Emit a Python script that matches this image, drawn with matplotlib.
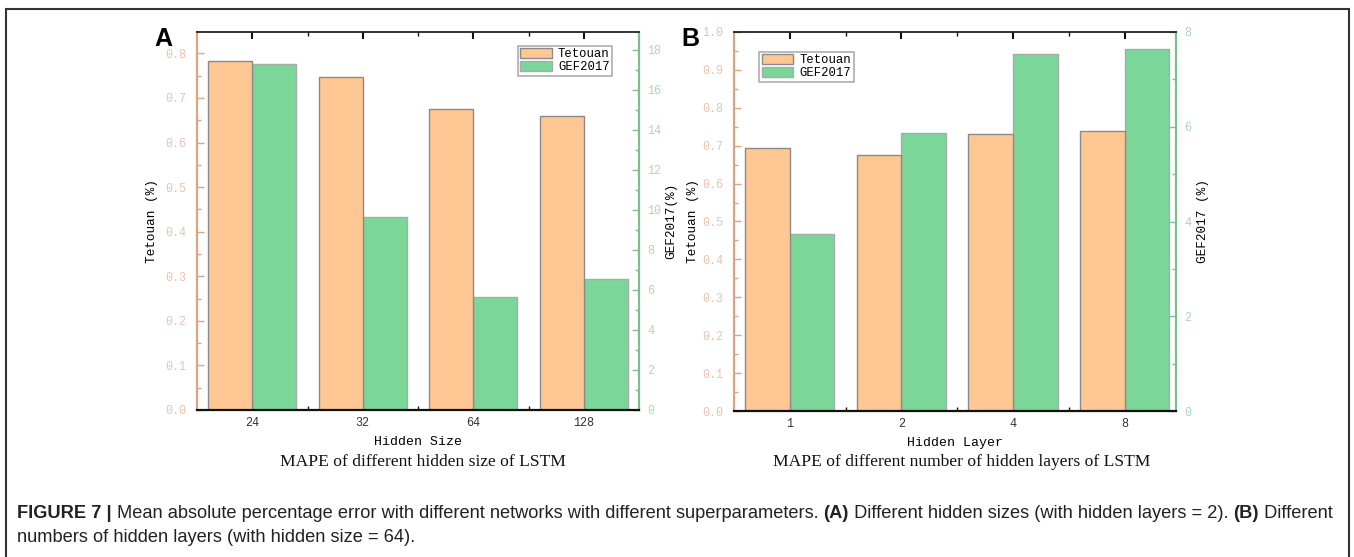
import matplotlib
matplotlib.use("Agg")
import matplotlib.pyplot as plt
import numpy as np
from matplotlib.patches import Rectangle
from matplotlib.ticker import MultipleLocator, FixedLocator

# ---------------- data ----------------
size_labels = ["24", "32", "64", "128"]
size_tetouan = [0.783, 0.746, 0.675, 0.659]
size_gef = [17.3, 9.67, 5.65, 6.55]

layer_labels = ["1", "2", "4", "8"]
layer_tetouan = [0.693, 0.675, 0.732, 0.740]
layer_gef = [3.73, 5.87, 7.53, 7.64]

series_names = ["Tetouan", "GEF2017"]

# ---------------- style ----------------
W, H = 1354, 557
DPI = 100
ORANGE = "#FFC793"
GREEN = "#7AD799"
EDGE = "#8a8a8a"
TAN_SPINE = "#D9A583"
TAN_TXT = "#E9C3AD"
GREEN_SPINE = "#7DBE8E"
GREEN_TXT = "#A9D9B5"
MONO = "Liberation Mono"
SERIF = "Liberation Serif"
SANS = "Liberation Sans"

fig = plt.figure(figsize=(W / DPI, H / DPI), dpi=DPI)


def px_axes(l, t, r, b):
    return fig.add_axes([l / W, 1 - b / H, (r - l) / W, (b - t) / H])


def panel(box, labels, tet, gef, ylim1, ylim2, xlim, minor1, major2, minor2,
          xlabel, ylabel2, subtitle, sub_xy, letter, letter_xy, leg_anchor, leg_loc,
          lp1, lp2):
    ax = px_axes(*box)
    ax2 = ax.twinx()
    x = np.arange(len(labels))
    w = 0.4
    b1 = ax.bar(x - w / 2, tet, width=w, color=ORANGE, edgecolor=EDGE,
                linewidth=1.0, label=series_names[0], zorder=2)
    b2 = ax2.bar(x + w / 2, gef, width=w, color=GREEN, edgecolor="#aaaaaa",
                 linewidth=1.0, label=series_names[1], zorder=2)
    ax.set_xlim(*xlim)
    ax.set_ylim(*ylim1)
    ax2.set_ylim(*ylim2)

    ax.spines["right"].set_visible(False)
    for s in ["left", "top", "bottom"]:
        ax2.spines[s].set_visible(False)
    ax.spines["left"].set_color(TAN_SPINE)
    ax.spines["left"].set_linewidth(1.6)
    ax.spines["bottom"].set_color("#111111")
    ax.spines["bottom"].set_linewidth(1.6)
    ax.spines["top"].set_color("#222222")
    ax.spines["top"].set_linewidth(1.3)
    ax2.spines["right"].set_color(GREEN_SPINE)
    ax2.spines["right"].set_linewidth(1.6)

    ax.set_xticks(x)
    ax.set_xticklabels(labels, family=MONO, fontsize=8.5, color="#333333")
    ax.xaxis.set_minor_locator(FixedLocator(x[:-1] + 0.5))
    ax.tick_params(axis="x", which="major", direction="in", length=5, width=1.5,
                   color="#111111", top=True, pad=5)
    ax.tick_params(axis="x", which="minor", direction="in", length=3, width=1.0,
                   color="#111111", top=True)
    ax.yaxis.set_major_locator(MultipleLocator(0.1))
    ax.yaxis.set_minor_locator(MultipleLocator(minor1))
    ax.yaxis.set_major_formatter(matplotlib.ticker.FormatStrFormatter("%.1f"))
    ax.tick_params(axis="y", which="major", direction="in", length=5, width=1.0,
                   color=TAN_SPINE, labelcolor=TAN_TXT, labelsize=8.5, pad=8)
    ax.tick_params(axis="y", which="minor", direction="in", length=3, width=1.0,
                   color=TAN_SPINE)
    for t in ax.get_yticklabels():
        t.set_family(MONO)
    ax2.yaxis.set_major_locator(MultipleLocator(major2))
    ax2.yaxis.set_minor_locator(MultipleLocator(minor2))
    ax2.tick_params(axis="y", which="major", direction="in", length=5, width=1.0,
                    color=GREEN_SPINE, labelcolor=GREEN_TXT, labelsize=8.5, pad=6)
    ax2.tick_params(axis="y", which="minor", direction="in", length=3, width=1.0,
                    color=GREEN_SPINE)
    for t in ax2.get_yticklabels():
        t.set_family(MONO)

    ax.set_ylabel("Tetouan (%)", family=MONO, fontsize=9.2, labelpad=lp1)
    ax2.set_ylabel(ylabel2, family=MONO, fontsize=9.2, labelpad=lp2)
    ax.set_xlabel(xlabel, family=MONO, fontsize=9.5, labelpad=5)

    leg = ax.legend([b1, b2], series_names, loc=leg_loc, bbox_to_anchor=leg_anchor,
                    prop={"family": MONO, "size": 8.8}, frameon=True, fancybox=False,
                    edgecolor="#999999", borderpad=0.2, labelspacing=0.05,
                    handlelength=2.6, handleheight=0.9, handletextpad=0.5,
                    borderaxespad=0)
    leg.get_frame().set_linewidth(1.2)
    leg.set_zorder(10)
    ax.set_zorder(ax2.get_zorder() + 1)
    ax.patch.set_visible(False)

    fig.text(sub_xy[0] / W, 1 - sub_xy[1] / H, subtitle, family=SERIF,
             fontsize=12.6, ha="center", va="center", color="#111111")
    fig.text(letter_xy[0] / W, 1 - letter_xy[1] / H, letter, family=SANS,
             fontsize=18, weight="bold", ha="center", va="center")
    return ax, ax2


panel((197, 32, 639, 410), size_labels, size_tetouan, size_gef,
      (0, 0.848), (0, 18.9), (-0.5, 3.5), 0.05, 2, 1,
      "Hidden Size", "GEF2017(%)", "MAPE of different hidden size of LSTM", (423, 462),
      "A", (163, 39), (0.939, 0.964), "upper right", 5, 3)
panel((734, 32, 1176, 411), layer_labels, layer_tetouan, layer_gef,
      (0, 1.0), (0, 8), (-0.5, 3.46), 0.05, 2, 1,
      "Hidden Layer", "GEF2017 (%)", "MAPE of different number of hidden layers of LSTM",
      (962, 462), "B", (690, 39), (0.057, 0.948), "upper left", 2, 4)

# outer frame
fig.patches.append(Rectangle((6 / W, -0.05), (1349 - 6) / W, 1 - 9 / H + 0.05,
                             transform=fig.transFigure, fill=False,
                             edgecolor="#333333", linewidth=1.5))

# caption with mixed bold / regular
fig.canvas.draw()
renderer = fig.canvas.get_renderer()
CAP_SIZE = 13.12


def runs(parts, x0, y):
    x = x0
    for txt, bold in parts:
        t = fig.text(x / W, 1 - y / H, txt, family=SANS, fontsize=CAP_SIZE,
                     weight="bold" if bold else "normal", ha="left",
                     va="baseline", color="#222222")
        bb = t.get_window_extent(renderer)
        x += bb.width


line1 = [("FIGURE 7 | ", True),
         ("Mean absolute percentage error with different networks with different superparameters. ", False),
         ("(A)", True), (" Different hidden sizes (with hidden layers = 2). ", False),
         ("(B)", True), (" Different", False)]
line2 = [("numbers of hidden layers (with hidden size = 64).", False)]
runs(line1, 17, 518)
runs(line2, 17, 542)

fig.savefig("out.png", dpi=DPI)
